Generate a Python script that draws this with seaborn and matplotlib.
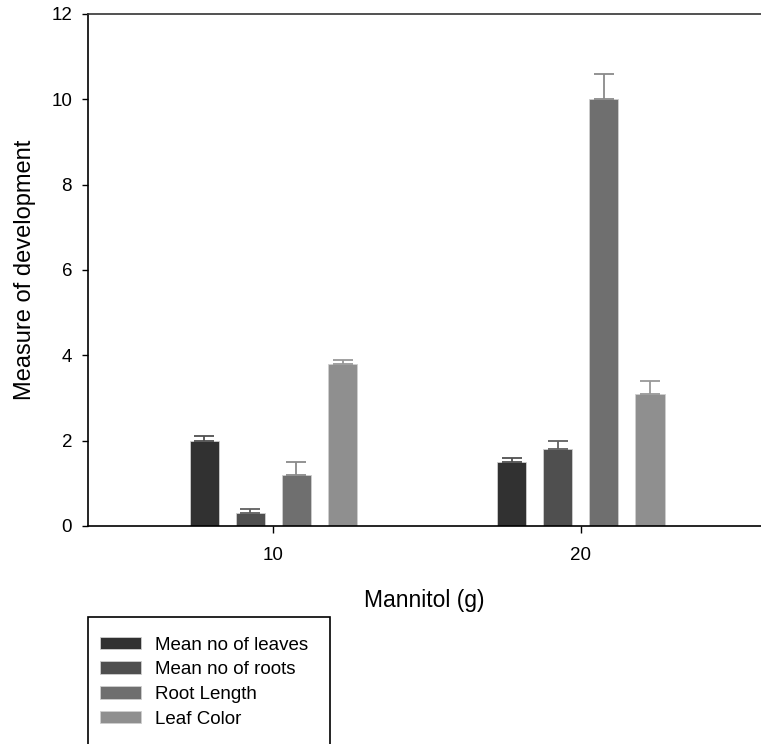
import matplotlib
matplotlib.use("Agg")
import matplotlib.pyplot as plt
from matplotlib.patches import Rectangle
import numpy as np
import pandas as pd
import seaborn as sns

# Measured development under two mannitol levels
mannitol = ["10", "20"]
measures = ["Mean no of leaves", "Mean no of roots", "Root Length", "Leaf Color"]
means_10 = [2.0, 0.3, 1.2, 3.8]
means_20 = [1.5, 1.8, 10.0, 3.1]
errs_10 = [0.1, 0.1, 0.3, 0.1]
errs_20 = [0.1, 0.2, 0.6, 0.3]

bar_colors = ["#313131", "#4f4f4f", "#6f6f6f", "#8f8f8f"]
err_colors = ["#505050", "#606060", "#8a8a8a", "#999999"]

sns.set_theme(style="ticks")
plt.rcParams["font.family"] = ["Liberation Sans", "DejaVu Sans"]
plt.rcParams["text.color"] = "black"
plt.rcParams["axes.labelcolor"] = "black"
plt.rcParams["xtick.color"] = "black"
plt.rcParams["ytick.color"] = "black"

df = pd.DataFrame({
    "Mannitol": np.repeat(mannitol, len(measures)),
    "Measure": measures * len(mannitol),
    "Value": means_10 + means_20,
    "Err": errs_10 + errs_20,
})

fig = plt.figure(figsize=(7.61, 7.44), dpi=100)
ax = fig.add_axes([88 / 761, 218 / 744, 1 - 88 / 761, 512 / 744])

sns.barplot(data=df, x="Mannitol", y="Value", hue="Measure", order=mannitol,
            hue_order=measures, palette=bar_colors, width=0.6, gap=0.37,
            errorbar=None, edgecolor="#cfcfcf", linewidth=0.6, legend=False,
            saturation=1, ax=ax)

# upper-only error bars placed on each bar's centre
for hi, meas in enumerate(measures):
    cont = ax.containers[hi]
    sub = df[df["Measure"] == meas].set_index("Mannitol").loc[mannitol]
    xs = [p.get_x() + p.get_width() / 2 for p in cont.patches]
    ax.errorbar(xs, sub["Value"].values,
                yerr=[np.zeros(len(xs)), sub["Err"].values],
                fmt="none", ecolor=err_colors[hi], elinewidth=1.3,
                capsize=7, capthick=1.3, zorder=1)

ax.set_ylim(0, 12)
ax.set_yticks([0, 2, 4, 6, 8, 10, 12])
ax.set_xlim(-0.603, 1.586)
ax.set_xlabel("Mannitol (g)", fontsize=16.5, labelpad=18)
ax.set_ylabel("Measure of development", fontsize=17, labelpad=11)
ax.tick_params(axis="both", labelsize=13.5, direction="out", length=4.5,
               width=1, color="black", labelcolor="black", pad=7)
ax.tick_params(axis="x", length=5, pad=10)
for side in ["left", "bottom", "top"]:
    ax.spines[side].set_visible(True)
    ax.spines[side].set_color("black")
    ax.spines[side].set_linewidth(1.2)
ax.spines["right"].set_visible(False)
ax.spines["top"].set_color("#333333")

# legend in a box below the plot
handles = [Rectangle((0, 0), 1, 1, facecolor=c, edgecolor="#cfcfcf", linewidth=0.6)
           for c in bar_colors]
fig.legend(handles, measures, loc="upper left",
           bbox_to_anchor=(100 / 761, 1 - 636.5 / 744), bbox_transform=fig.transFigure,
           frameon=False, fontsize=13.5, handlelength=2.2, handleheight=0.65,
           handletextpad=0.72, labelspacing=0.41, borderpad=0, borderaxespad=0)
fig.patches.append(Rectangle((88 / 761, -0.02), (330 - 88) / 761, (744 - 617) / 744 + 0.02,
                             transform=fig.transFigure, fill=False,
                             edgecolor="black", linewidth=1.2, clip_on=False))

fig.savefig("out.png", dpi=100)
